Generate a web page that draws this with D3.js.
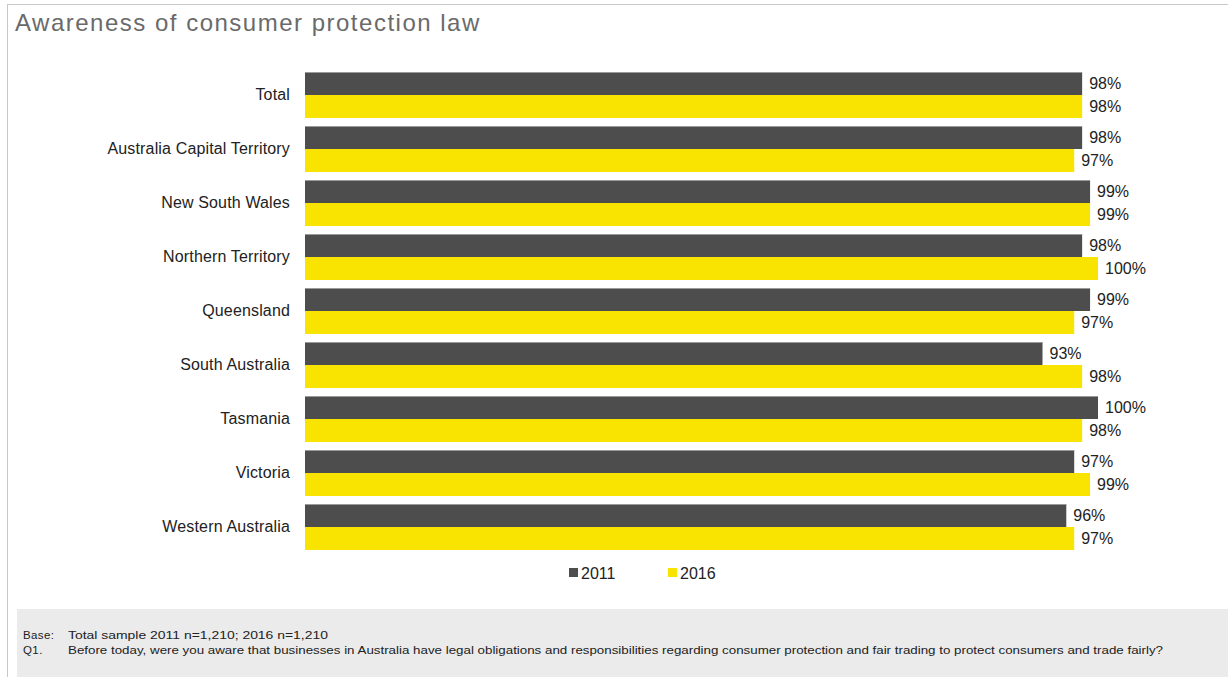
<!DOCTYPE html>
<html><head><meta charset="utf-8">
<script src="https://cdn.jsdelivr.net/npm/d3@7"></script>
<style>body{margin:0;background:#fff}svg{display:block;font-family:"Liberation Sans",Arial,sans-serif}</style>
</head><body>
<svg id="c" width="1228" height="677"></svg>
<script>
const categories = ["Total","Australia Capital Territory","New South Wales","Northern Territory","Queensland","South Australia","Tasmania","Victoria","Western Australia"];
const years = ["2011","2016"];
const values2011 = [98,98,99,98,99,93,100,97,96];
const values2016 = [98,97,99,100,97,98,98,99,97];
const colors = ["#4d4d4d","#f8e400"];
const title = "Awareness of consumer protection law";
const footnotes = [["Base:","Total sample 2011 n=1,210; 2016 n=1,210"],["Q1.","Before today, were you aware that businesses in Australia have legal obligations and responsibilities regarding consumer protection and fair trading to protect consumers and trade fairly?"]];

const svg = d3.select("#c");
// frame
svg.append("line").attr("x1",7.5).attr("x2",7.5).attr("y1",4).attr("y2",677).attr("stroke","#c8c8c8");
svg.append("line").attr("x1",7).attr("x2",1228).attr("y1",4.5).attr("y2",4.5).attr("stroke","#c8c8c8");

svg.append("text").attr("x",15).attr("y",31).attr("font-size",24).attr("letter-spacing",1.5).attr("fill","#6a6a6a").text(title);

const x = d3.scaleLinear().domain([0,100]).range([305,1098]);
const y0 = d3.scaleBand().domain(categories).range([72,550]).paddingInner(8/54).paddingOuter(0);
const y1 = d3.scaleBand().domain(years).range([0,y0.bandwidth()]);

const data = categories.map((c,i)=>({cat:c, vals:[values2011[i], values2016[i]]}));
const g = svg.append("g");
const groups = g.selectAll("g.grp").data(data).join("g").attr("transform",d=>`translate(0,${y0(d.cat)})`);
groups.each(function(d){
  const sel = d3.select(this);
  years.forEach((yr,k)=>{
    sel.append("rect").attr("x",x(0)).attr("y",y1(yr)).attr("width",x(d.vals[k])-x(0)).attr("height",y1.bandwidth())
      .attr("fill",colors[k]);
    if(k===0) sel.append("line").attr("x1",x(0)).attr("x2",x(d.vals[k])).attr("y1",y1(yr)+0.5).attr("y2",y1(yr)+0.5).attr("stroke","#9a9a9a");
    sel.append("text").attr("x",x(d.vals[k])+7).attr("y",y1(yr)+y1.bandwidth()/2).attr("dy","0.36em")
      .attr("font-size",16).attr("fill","#222").text(d.vals[k]+"%");
  });
});

const yAxis = d3.axisLeft(y0).tickSize(0).tickPadding(0);
const ax = svg.append("g").attr("transform","translate(290,0)").call(yAxis);
ax.select(".domain").remove();
ax.selectAll("text").attr("font-size",16).attr("letter-spacing",0.15).attr("fill","#222").attr("font-family","Liberation Sans, Arial, sans-serif");

// legend
const legX = [569,668];
years.forEach((yr,k)=>{
  svg.append("rect").attr("x",legX[k]).attr("y",568).attr("width",9).attr("height",9).attr("fill",colors[k]);
  svg.append("text").attr("x",legX[k]+12).attr("y",579).attr("font-size",16).attr("fill","#222").text(yr);
});

// footer
svg.append("rect").attr("x",17).attr("y",609).attr("width",1211).attr("height",68).attr("fill","#ebebeb");
const fy = [639,654];
const fw = [260,1095];
footnotes.forEach((f,i)=>{
  svg.append("text").attr("x",23).attr("y",fy[i]).attr("font-size",11.5).attr("letter-spacing",0.4).attr("fill","#222").text(f[0]);
  svg.append("text").attr("x",68).attr("y",fy[i]).attr("font-size",11.5).attr("fill","#222")
    .attr("textLength",fw[i]).attr("lengthAdjust","spacingAndGlyphs").text(f[1]);
});
</script>
</body></html>
